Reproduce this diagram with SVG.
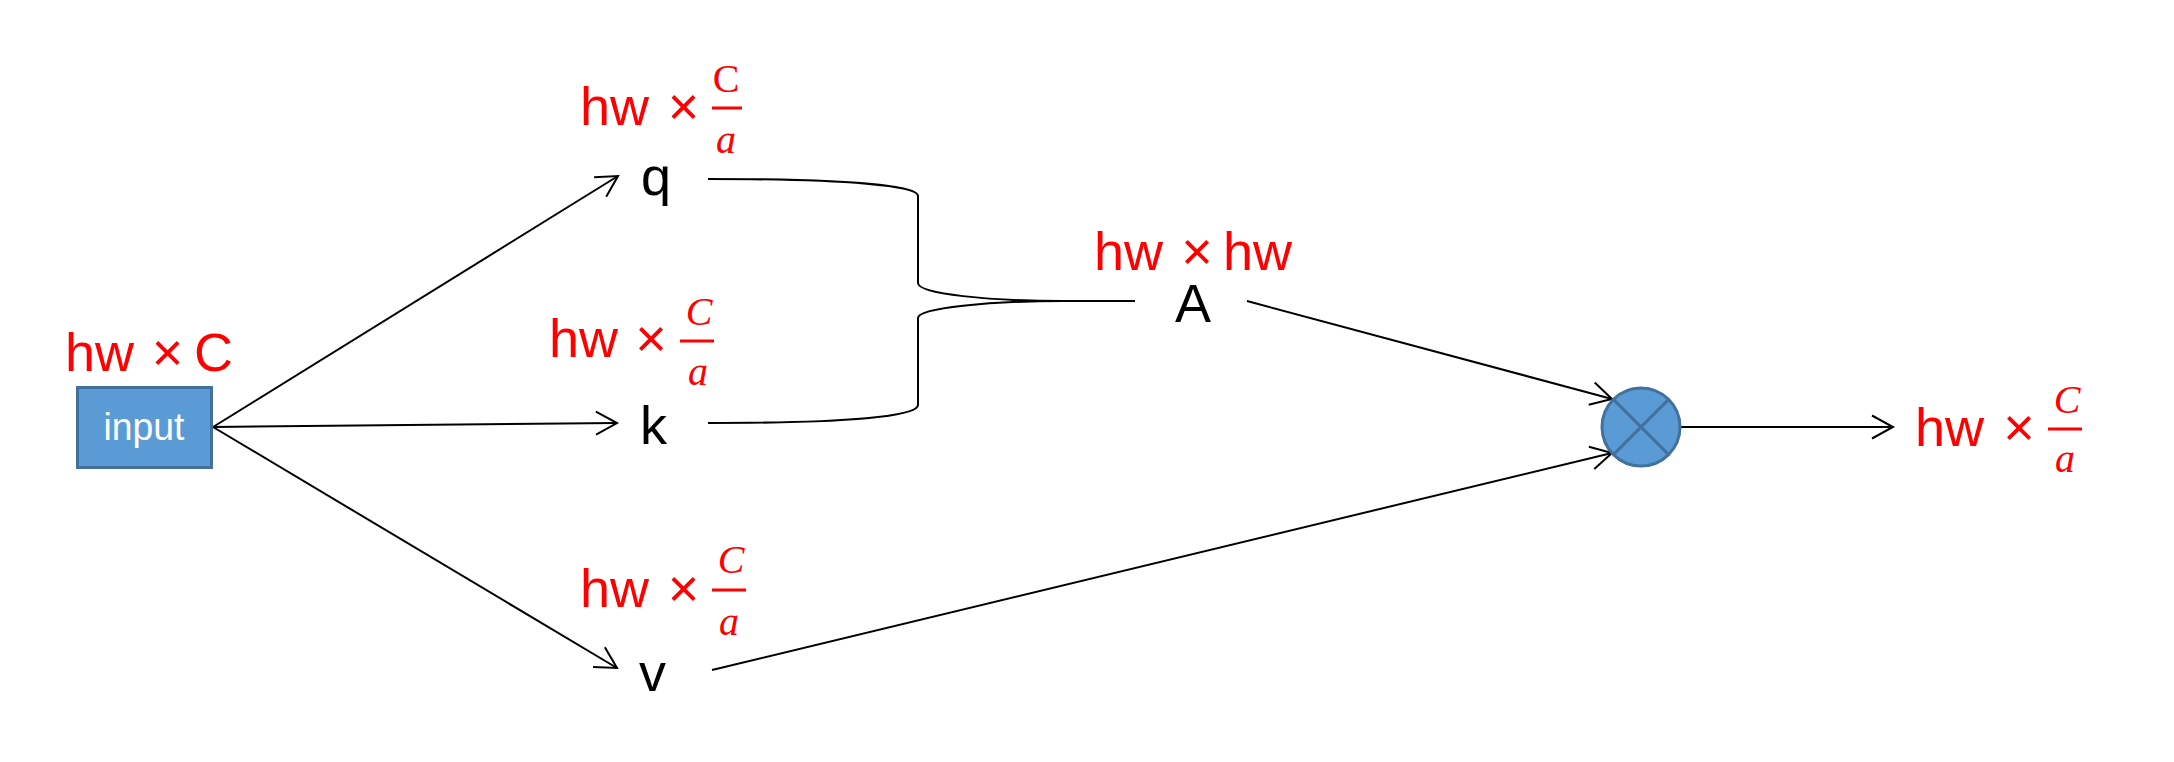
<svg xmlns="http://www.w3.org/2000/svg" width="2174" height="762" viewBox="0 0 2174 762">
<style>
.lbl{font-family:"Liberation Sans",Arial,sans-serif;font-size:54px;fill:#000}
.red{font-family:"Liberation Sans",Arial,sans-serif;font-size:54px;fill:#FF0000}
.frac{font-family:"Liberation Serif","Times New Roman",serif;font-size:40px;fill:#FF0000}
.it{font-style:italic}
.bar{stroke:#FF0000;stroke-width:3}
.conn{fill:none;stroke:#000;stroke-width:2}
.blue{fill:#5B9BD5;stroke:#41719C;stroke-width:3}
</style>
<defs>
<marker id="arr" markerUnits="userSpaceOnUse" markerWidth="30" markerHeight="30" refX="0" refY="0" orient="auto" viewBox="-25 -15 30 30" style="overflow:visible">
<path d="M-21,-11.5 L0,0 L-21,11.5" fill="none" stroke="#000" stroke-width="2"/>
</marker>
</defs>
<rect width="2174" height="762" fill="#fff"/>
<g id="connectors">
<line class="conn" x1="213" y1="427" x2="618" y2="176" marker-end="url(#arr)"/>
<line class="conn" x1="213" y1="427" x2="617" y2="423" marker-end="url(#arr)"/>
<line class="conn" x1="213" y1="427" x2="617" y2="668" marker-end="url(#arr)"/>
<path class="conn" d="M708,179 C850,179 918,186 918,196 L918,283 C918,294 990,301 1063,301 L1135,301 M1063,301 C990,301 918,308 918,318 L918,405 C918,416 850,423 708,423"/>
<line class="conn" x1="1247" y1="301" x2="1612" y2="399" marker-end="url(#arr)"/>
<line class="conn" x1="712" y1="670" x2="1612" y2="453" marker-end="url(#arr)"/>
<line class="conn" x1="1681" y1="427" x2="1893" y2="427" marker-end="url(#arr)"/>
</g>
<g id="input">
<rect class="blue" x="77.5" y="387.5" width="134" height="80"/>
<text x="144" y="440" text-anchor="middle" font-family="'Liberation Sans',Arial,sans-serif" font-size="39" fill="#fff" textLength="81" lengthAdjust="spacingAndGlyphs">input</text>
<text class="red" x="65" y="371">hw</text>
<text class="red" x="167.5" y="371" text-anchor="middle">×</text>
<text class="red" x="194" y="371">C</text>
</g>
<g id="q">
<text class="lbl" x="641" y="195">q</text>
<text class="red" x="580" y="125">hw</text>
<text class="red" x="683.5" y="125" text-anchor="middle">×</text>
<text class="frac" x="726" y="92" text-anchor="middle">C</text>
<line class="bar" x1="712" y1="108" x2="742" y2="108"/>
<text class="frac it" x="726" y="153" text-anchor="middle">a</text>
</g>
<g id="k">
<text class="lbl" x="640" y="444">k</text>
<text class="red" x="549" y="357">hw</text>
<text class="red" x="651" y="357" text-anchor="middle">×</text>
<text class="frac it" x="699" y="325" text-anchor="middle">C</text>
<line class="bar" x1="680" y1="341" x2="714" y2="341"/>
<text class="frac it" x="698" y="385" text-anchor="middle">a</text>
</g>
<g id="v">
<text class="lbl" x="639" y="691">v</text>
<text class="red" x="580" y="607">hw</text>
<text class="red" x="683.5" y="607" text-anchor="middle">×</text>
<text class="frac it" x="731" y="573" text-anchor="middle">C</text>
<line class="bar" x1="712" y1="590" x2="746" y2="590"/>
<text class="frac it" x="729" y="635" text-anchor="middle">a</text>
</g>
<g id="A">
<text class="lbl" x="1175" y="322">A</text>
<text class="red" x="1094" y="270">hw</text>
<text class="red" x="1197" y="270" text-anchor="middle">×</text>
<text class="red" x="1223" y="270">hw</text>
</g>
<g id="multiply">
<circle class="blue" cx="1641" cy="427" r="39"/>
<line x1="1613.4" y1="399.4" x2="1668.6" y2="454.6" stroke="#41719C" stroke-width="3"/>
<line x1="1668.6" y1="399.4" x2="1613.4" y2="454.6" stroke="#41719C" stroke-width="3"/>
</g>
<g id="output">
<text class="red" x="1915" y="446">hw</text>
<text class="red" x="2019" y="446" text-anchor="middle">×</text>
<text class="frac it" x="2067" y="413" text-anchor="middle">C</text>
<line class="bar" x1="2048" y1="429" x2="2082" y2="429"/>
<text class="frac it" x="2065" y="472" text-anchor="middle">a</text>
</g>
</svg>
